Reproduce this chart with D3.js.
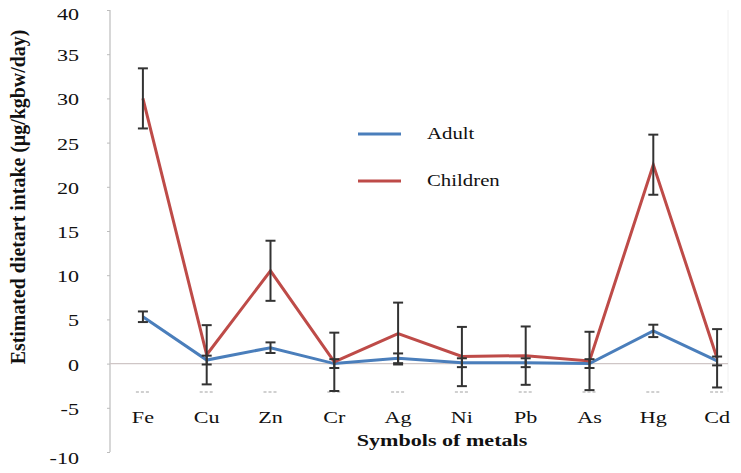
<!DOCTYPE html>
<html><head><meta charset="utf-8">
<script src="https://cdn.jsdelivr.net/npm/d3@7"></script>
<style>body{margin:0;background:#fff}</style>
</head><body><svg id="c" width="741" height="473"></svg>
<script>
const metals = ["Fe","Cu","Zn","Cr","Ag","Ni","Pb","As","Hg","Cd"];
const adult = [5.3,0.4,1.8,0.0,0.6,0.1,0.1,0.0,3.7,0.3];
const adultErr = [0.6,0.5,0.6,0.5,0.55,0.5,0.5,0.5,0.7,0.5];
const children = [30.0,1.0,10.5,0.2,3.4,0.8,0.9,0.3,22.5,0.6];
const childrenErr = [3.4,3.35,3.4,3.3,3.5,3.35,3.3,3.3,3.4,3.3];
const yTicks = [40,35,30,25,20,15,10,5,0,-5,-10];

const FONT = "'Liberation Serif', 'Times New Roman', serif";
const SX = 1.3;
const svg = d3.select("#c");
const x = d3.scaleBand().domain(metals).range([111,749]);
const y = d3.scaleLinear().domain([-10,40]).range([452,10]);
const cx = d => x(d)+x.bandwidth()/2;

function htext(g, tx, ty, str, size, anchor, bold){
  return g.append("text").attr("transform",`translate(${tx},${ty}) scale(${SX},1)`)
    .attr("text-anchor",anchor).attr("font-size",size).attr("font-weight",bold?"bold":"normal")
    .attr("fill","#111").style("font-family",FONT).text(str);
}

// axis line
svg.append("line").attr("x1",110).attr("x2",110).attr("y1",y(40)).attr("y2",y(-10)).attr("stroke","#bdbdbd").attr("stroke-width",1.2);
svg.append("line").attr("x1",728).attr("x2",728).attr("y1",y(40)).attr("y2",y(-3.2)).attr("stroke","#f0f0f0").attr("stroke-width",1);
const yAxis = d3.axisLeft(y).tickValues(yTicks).tickSize(3).tickFormat(()=>"");
const ga = svg.append("g").attr("transform","translate(110,0)").call(yAxis);
ga.select(".domain").remove();
ga.selectAll(".tick line").attr("stroke","#bdbdbd");
yTicks.forEach(t=>htext(svg, 79, y(t)+(t===-10?12:t===40?10:7), String(t), 17, "end", false));

// zero line
svg.append("line").attr("x1",110).attr("x2",728).attr("y1",y(0)).attr("y2",y(0)).attr("stroke","#cfc6c6").attr("stroke-width",1.2);

// clip
svg.append("clipPath").attr("id","clip").append("rect").attr("x",110).attr("y",0).attr("width",630).attr("height",y(-3.2));
svg.append("g").selectAll("line").data(metals).join("line")
  .attr("x1",d=>cx(d)-7).attr("x2",d=>cx(d)+7).attr("y1",y(-3.2)).attr("y2",y(-3.2))
  .attr("stroke","#d0d0d0").attr("stroke-width",2).attr("stroke-dasharray","3,2");

const line = d3.line().x((d,i)=>cx(metals[i])).y(d=>y(d));
const plot = svg.append("g").attr("clip-path","url(#clip)");
plot.append("path").datum(adult).attr("d",line).attr("fill","none").attr("stroke","#4a7ebb").attr("stroke-width",3);
plot.append("path").datum(children).attr("d",line).attr("fill","none").attr("stroke","#be4b48").attr("stroke-width",3);

function errBars(vals, errs){
  const g = plot.append("g");
  metals.forEach((m,i)=>{
    const x0 = cx(m), hi = y(vals[i]+errs[i]), lo = y(vals[i]-errs[i]);
    g.append("line").attr("x1",x0).attr("x2",x0).attr("y1",hi).attr("y2",lo).attr("stroke","#333").attr("stroke-width",2);
    [hi,lo].forEach(yy=>g.append("line").attr("x1",x0-5).attr("x2",x0+5).attr("y1",yy).attr("y2",yy).attr("stroke","#333").attr("stroke-width",2));
  });
}
errBars(adult, adultErr);
errBars(children, childrenErr);

// x labels
metals.forEach(m=>htext(svg, cx(m), 423, m, 17, "middle", false));
htext(svg, 442, 446, "Symbols of metals", 17, "middle", true);
svg.append("text").attr("transform","translate(25,197) rotate(-90) scale(1.17,1.25)").attr("text-anchor","middle")
  .attr("font-size",17).attr("font-weight","bold").attr("fill","#111").style("font-family",FONT)
  .text("Estimated dietart intake (µg/kgbw/day)");

// legend
const leg = [{n:"Adult",c:"#4a7ebb",y:134},{n:"Children",c:"#be4b48",y:181}];
leg.forEach(l=>{
  svg.append("line").attr("x1",358).attr("x2",401).attr("y1",l.y).attr("y2",l.y).attr("stroke",l.c).attr("stroke-width",3);
  htext(svg, 427, l.y+5, l.n, 16, "start", false);
});
</script></body></html>
